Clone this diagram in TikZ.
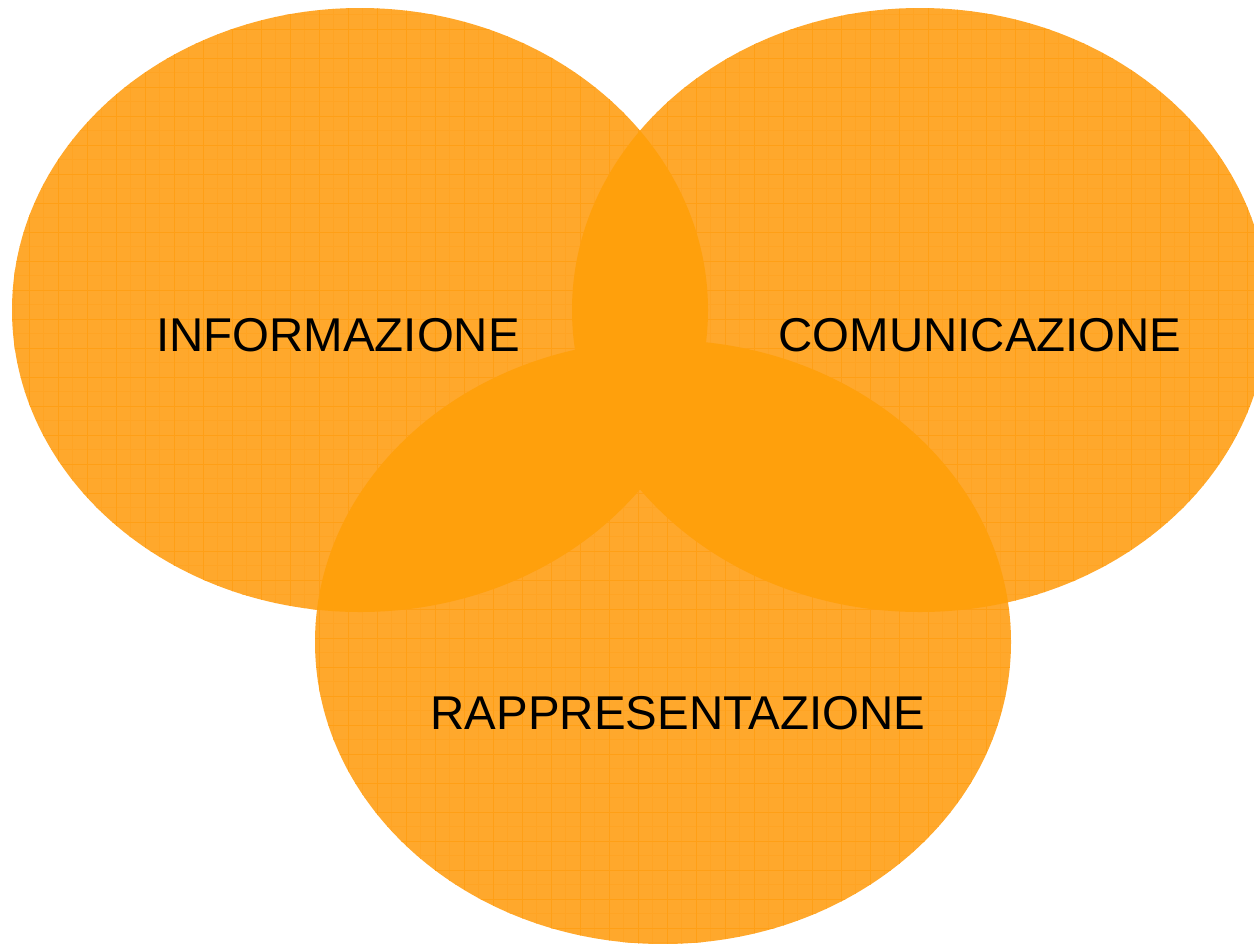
\documentclass[tikz,border=0pt]{standalone}
\usepackage{fontspec}
\setmainfont{Liberation Sans}
\definecolor{vennfill}{RGB}{255,168,44}
\definecolor{vennline}{RGB}{255,159,22}
\definecolor{vennfine}{RGB}{255,164,36}
\definecolor{vennmix}{RGB}{255,160,12}
\tikzset{
  venn label/.style={font=\fontsize{27}{32}\selectfont, text=black, inner sep=0pt},
  major line/.style={vennline, line width=0.55pt},
  minor line/.style={vennfine, line width=0.35pt},
}
% the three sets
\def\setInfo{(360,-310) ellipse [x radius=348, y radius=302]}
\def\setComu{(920,-310) ellipse [x radius=348, y radius=302]}
\def\setRapp{(663,-642) ellipse [x radius=348, y radius=302]}
\begin{document}
\begin{tikzpicture}[x=0.02cm, y=0.02cm]
\useasboundingbox (0,0) rectangle (1254,-944);
% grid texture in each set
\foreach \S in {\setInfo,\setComu,\setRapp} {
  \begin{scope}
    \clip \S;
    \fill [vennfill] (0,0) rectangle (1254,-944);
    \foreach \gx in {14.5,43.5,...,1270} \draw [minor line] (\gx,0) -- (\gx,-944);
    \foreach \gy in {14.5,43.5,...,950} \draw [minor line] (0,-\gy) -- (1254,-\gy);
    \foreach \gx in {0,29,...,1270} \draw [major line] (\gx,0) -- (\gx,-944);
    \foreach \gy in {0,29,...,950} \draw [major line] (0,-\gy) -- (1254,-\gy);
  \end{scope}
}
% overlaps are plain
\begin{scope}
  \clip \setInfo;
  \fill [vennmix] \setComu;
  \fill [vennmix] \setRapp;
\end{scope}
\begin{scope}
  \clip \setComu;
  \fill [vennmix] \setRapp;
\end{scope}
% labels
\node [venn label] (info) at (338,-335) {INFORMAZIONE};
\node [venn label] (comu) at (980,-335) {COMUNICAZIONE};
\node [venn label] (rapp) at (678,-713) {RAPPRESENTAZIONE};
\end{tikzpicture}
\end{document}
